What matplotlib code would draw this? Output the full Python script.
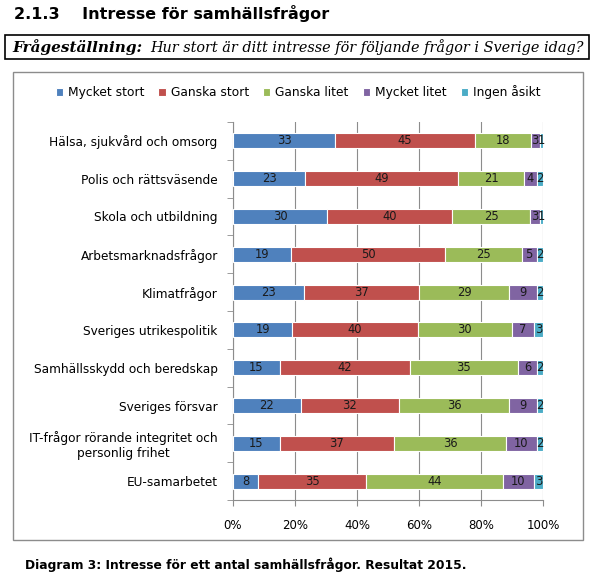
import numpy as np
import matplotlib.pyplot as plt
from matplotlib.patches import Rectangle
plt.switch_backend('Agg')

# data
categories = ["Hälsa, sjukvård och omsorg", "Polis och rättsväsende", "Skola och utbildning",
              "Arbetsmarknadsfrågor", "Klimatfrågor", "Sveriges utrikespolitik",
              "Samhällsskydd och beredskap", "Sveriges försvar",
              "IT-frågor rörande integritet och\npersonlig frihet", "EU-samarbetet"]
series = ["Mycket stort", "Ganska stort", "Ganska litet", "Mycket litet", "Ingen åsikt"]
mycket_stort = [33, 23, 30, 19, 23, 19, 15, 22, 15, 8]
ganska_stort = [45, 49, 40, 50, 37, 40, 42, 32, 37, 35]
ganska_litet = [18, 21, 25, 25, 29, 30, 35, 36, 36, 44]
mycket_litet = [3, 4, 3, 5, 9, 7, 6, 9, 10, 10]
ingen_asikt = [1, 2, 1, 2, 2, 3, 2, 2, 2, 3]
colors = ["#4F81BD", "#C0504D", "#9BBB59", "#8064A2", "#4BACC6"]

vals = np.array([mycket_stort, ganska_stort, ganska_litet, mycket_litet, ingen_asikt], dtype=float)
shares = vals / vals.sum(axis=0) * 100

fig = plt.figure(figsize=(5.94, 5.85), dpi=100)

# rubrik och frågeställning
fig.text(14 / 594, 1 - 13 / 585, "2.1.3    Intresse för samhällsfrågor", fontsize=11.5,
         fontweight='bold', va='center', ha='left', family='DejaVu Sans')
fig.patches.append(Rectangle((5 / 594, 1 - 59 / 585), 584 / 594, 24 / 585, transform=fig.transFigure,
                             fill=False, ec='black', lw=1.2))
fig.text(12 / 594, 1 - 47 / 585, "Frågeställning:", fontsize=11, fontweight='bold', style='italic',
         family='DejaVu Serif', va='center', ha='left')
fig.text(150 / 594, 1 - 47 / 585, "Hur stort är ditt intresse för följande frågor i Sverige idag?",
         fontsize=10.4, style='italic', family='DejaVu Serif', va='center', ha='left')

# diagramram
fig.patches.append(Rectangle((13 / 594, 1 - 540 / 585), 570 / 594, 468 / 585, transform=fig.transFigure,
                             fill=False, ec='#8c8c8c', lw=1))

ax = fig.add_axes([233 / 594, 1 - 500 / 585, 310 / 594, 378 / 585])
y = np.arange(len(categories))
left = np.zeros(len(categories))
for i, name in enumerate(series):
    ax.barh(y, shares[i], left=left, height=0.4, color=colors[i], edgecolor='white', lw=0.8,
            label=name, zorder=3)
    for j in range(len(categories)):
        ax.text(left[j] + shares[i][j] / 2, y[j], f"{int(vals[i][j])}", ha='center', va='center',
                fontsize=8.3, color='#1a1a1a', zorder=4)
    left += shares[i]

ax.set_xlim(0, 100)
ax.set_ylim(len(categories) - 0.5, -0.5)
ax.set_xticks(np.arange(0, 101, 20))
ax.set_xticklabels([f"{t}%" for t in range(0, 101, 20)], fontsize=8.5)
ax.set_yticks(y)
ax.set_yticklabels(categories, fontsize=8.7, ha='right', multialignment='center')
ax.tick_params(axis='y', length=0, pad=11)
ax.set_yticks(np.arange(-0.5, len(categories)), minor=True)
ax.tick_params(axis='y', which='minor', length=4, color='#8c8c8c')
ax.tick_params(axis='x', length=4, color='#8c8c8c', pad=10)
ax.grid(axis='x', color='#8c8c8c', lw=0.8, zorder=0)
for s in ['top', 'right']:
    ax.spines[s].set_visible(False)
for s in ['left', 'bottom']:
    ax.spines[s].set_color('#8c8c8c')

ax.legend(loc='center', bbox_to_anchor=(298 / 594, 1 - 92 / 585), bbox_transform=fig.transFigure,
          ncol=5, frameon=False, fontsize=8.8, handlelength=0.6, handleheight=0.6,
          handletextpad=0.4, columnspacing=1.15)

fig.text(25 / 594, 1 - 565 / 585, "Diagram 3: Intresse för ett antal samhällsfrågor. Resultat 2015.",
         fontsize=8.8, fontweight='bold', va='center', ha='left')

fig.savefig("out.png", dpi=100)
